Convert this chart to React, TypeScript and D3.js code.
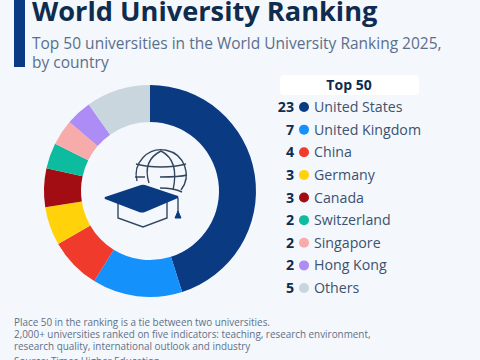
import React from "react";
import * as d3 from "d3";

const countries = ["United States","United Kingdom","China","Germany","Canada","Switzerland","Singapore","Hong Kong","Others"];
const counts = [23,7,4,3,3,2,2,2,5];
const colors = ["#0a3a82","#1491fb","#ef3a2c","#ffd20a","#a10d12","#0dbb9f","#f7abab","#ad8cf5","#c9d6de"];
const font = "'Open Sans', sans-serif";

export default function App() {
  const pie = d3.pie<number>().sort(null)(counts);
  const arc = d3.arc<d3.PieArcDatum<number>>().innerRadius(69).outerRadius(106);
  const legendY = d3.scalePoint<string>().domain(countries).range([107, 288]);
  return (
    <svg width={480} height={360} style={{position:"absolute",left:0,top:0,background:"#f4f7fb"}} fontFamily={font}>
      <rect x={14} y={0} width={11} height={67} fill="#0a3a82"/>
      <text x={32} y={21} fontSize={27.2} fontWeight={700} fill="#0e2c4e">World University Ranking</text>
      <text x={32} y={49} fontSize={15.5} fill="#5a6f8c">Top 50 universities in the World University Ranking 2025,</text>
      <text x={32} y={68} fontSize={15.5} fill="#5a6f8c">by country</text>
      <g transform="translate(150,191)">
        {pie.map((d,i)=><path key={i} d={arc(d)!} fill={colors[i]}/>)}
      </g>
      <g fill="none" stroke="#33475f" strokeWidth={1.4}>
        <path d="M137 181 A25 25 0 1 1 181 190"/>
        <path d="M149 183 C145 170 147 158 161 151 C175 158 177 172 173 190"/>
        <path d="M136 164 C150 168 172 168 186 164"/>
        <path d="M135 177 L145 177 M160 177 C170 177 180 177 187 175"/>
        <path d="M160 188 C168 188 176 189 182 192"/>
        <path d="M118 202 L118 218 L143 227 L167 218 L167 202"/>
        <path d="M178 198 L178 212"/>
      </g>
      <path d="M105 197 L141 185 Q143 184.500 145 185 L178 196 Q179 197 178 198 L145 212 Q142 213 139 212 L105 199 Q104 198 105 197 Z" fill="#0a3a82"/>
      <path d="M178 211 L181 218 L175 218 Z" fill="#0a3a82" stroke="#0a3a82" strokeLinejoin="round"/>
      <rect x={280} y={75} width={139} height={20} rx={4} fill="#fff"/>
      <text x={349} y={90} fontSize={14} fontWeight={700} textAnchor="middle" fill="#0e2c4e">Top 50</text>
      {countries.map((c,i)=>{
        const y = legendY(c)!;
        return (
          <g key={c}>
            <text x={294} y={y+5} fontSize={14.2} fontWeight={700} textAnchor="end" fill="#0e2c4e">{counts[i]}</text>
            <circle cx={304} cy={y} r={5} fill={colors[i]}/>
            <text x={314} y={y+5} fontSize={14.2} fill="#3c5270">{c}</text>
          </g>
        );
      })}
      <g fontSize={9.9} fill="#5f7189">
        <text x={14} y={326}>Place 50 in the ranking is a tie between two universities.</text>
        <text x={14} y={338}>2,000+ universities ranked on five indicators: teaching, research environment,</text>
        <text x={14} y={350}>research quality, international outlook and industry</text>
        <text x={14} y={365}>Source: Times Higher Education</text>
      </g>
    </svg>
  );
}
